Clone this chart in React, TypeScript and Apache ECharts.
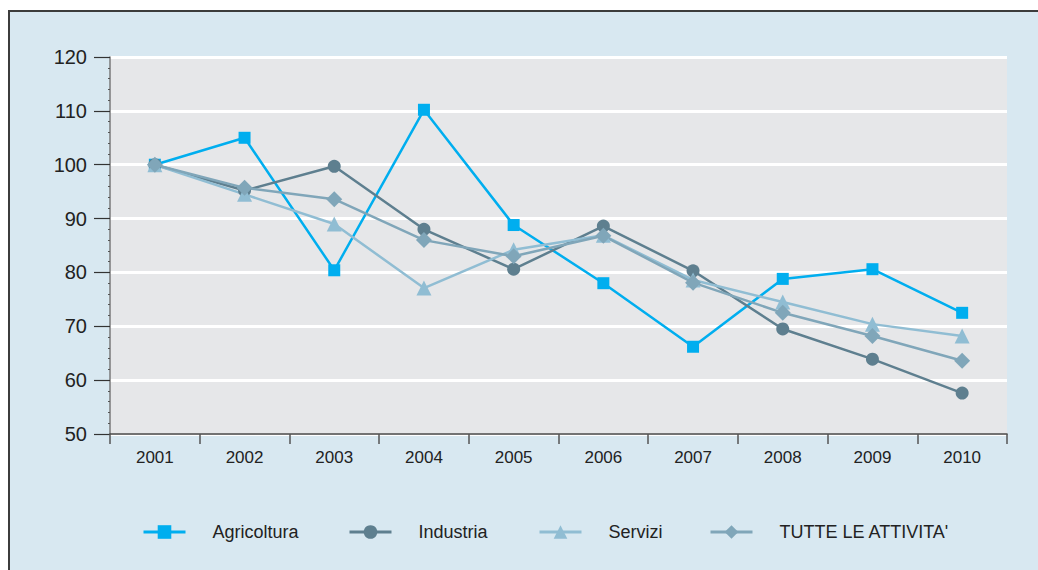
import React, { useEffect, useRef } from "react";
import * as echarts from "echarts";

const years = ["2001", "2002", "2003", "2004", "2005", "2006", "2007", "2008", "2009", "2010"];
const agricoltura = [100, 105, 80.4, 110.2, 88.8, 78, 66.2, 78.8, 80.6, 72.5];
const industria = [100, 95.2, 99.7, 88, 80.6, 88.6, 80.3, 69.5, 63.9, 57.6];
const servizi = [100, 94.5, 89, 77.1, 84.2, 86.9, 78.6, 74.5, 70.4, 68.2];
const tutte = [100, 95.7, 93.6, 86, 83, 86.8, 78.1, 72.5, 68.2, 63.6];
const seriesNames = ["Agricoltura", "Industria", "Servizi", "TUTTE LE ATTIVITA'"];
const legendLefts = [142, 348, 538, 709];

const FONT = "'Liberation Sans', Arial, Helvetica, sans-serif";

export default function App() {
  const ref = useRef<HTMLDivElement>(null);
  useEffect(() => {
    if (!ref.current) return;
    const chart = echarts.init(ref.current, null, { renderer: "svg" });
    const mk = (name: string, data: number[], color: string, symbol: string, size: number) => ({
      name,
      type: "line",
      data,
      symbol,
      symbolSize: size,
      showAllSymbol: true,
      lineStyle: { color, width: 2.5 },
      itemStyle: { color, borderWidth: 0 },
      emphasis: { disabled: true },
    });
    chart.setOption({
      animation: false,
      backgroundColor: "#ffffff",
      textStyle: { fontFamily: FONT },
      graphic: [
        {
          type: "rect",
          z: -10,
          silent: true,
          shape: { x: 9, y: 11, width: 1040, height: 570 },
          style: { fill: "#d8e8f1", stroke: "#3c3c3c", lineWidth: 2 },
        },
      ],
      grid: {
        left: 110,
        right: 31,
        top: 57,
        bottom: 136,
        show: true,
        backgroundColor: "#e6e7e9",
        borderWidth: 0,
        z: 0,
      },
      legend: seriesNames.map((n, i) => ({
        left: legendLefts[i],
        top: 523,
        padding: 0,
        itemWidth: 42,
        itemHeight: 17,
        lineStyle: { width: 3 },
        textStyle: { fontSize: 18, color: "#222", fontFamily: FONT, padding: [0, 0, 0, 22] },
        data: [n],
      })),
      xAxis: {
        type: "category",
        data: years,
        boundaryGap: true,
        axisLine: { lineStyle: { color: "#444", width: 1.5 } },
        axisTick: { show: true, length: 10, alignWithLabel: false, lineStyle: { color: "#555", width: 1.5 } },
        axisLabel: { fontSize: 17, color: "#222", margin: 15, fontFamily: FONT },
        splitLine: { show: false },
      },
      yAxis: {
        type: "value",
        min: 50,
        max: 120,
        interval: 10,
        axisLine: { show: true, lineStyle: { color: "#7a7a7a", width: 1.5 } },
        axisTick: { show: true, length: 16, lineStyle: { color: "#333", width: 1.2 } },
        minorTick: { show: true, splitNumber: 5, length: 2, lineStyle: { color: "#555", width: 1 } },
        axisLabel: { fontSize: 20, color: "#222", margin: 23, fontFamily: FONT },
        splitLine: { show: true, lineStyle: { color: "#ffffff", width: 3 } },
      },
      series: [
        mk(seriesNames[0], agricoltura, "#00aeef", "rect", 12),
        mk(seriesNames[1], industria, "#5e7f8f", "circle", 13),
        mk(seriesNames[2], servizi, "#90bdd3", "triangle", 15),
        mk(seriesNames[3], tutte, "#80a6b9", "diamond", 16),
      ],
    });
    return () => chart.dispose();
  }, []);
  return (
    <div
      ref={ref}
      style={{ position: "fixed", left: 0, top: 0, width: 1038, height: 570 }}
    />
  );
}
